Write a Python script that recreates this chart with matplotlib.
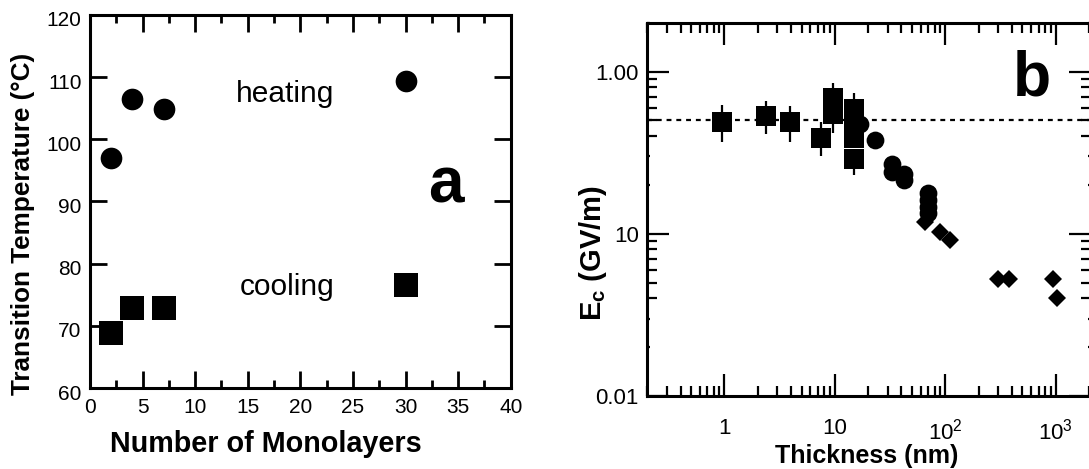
import numpy as np
import matplotlib
matplotlib.use("Agg")
import matplotlib.pyplot as plt
from matplotlib.ticker import FixedLocator, LogLocator, NullFormatter, FixedFormatter, MultipleLocator
import matplotlib.transforms as mtransforms

plt.rcParams['font.family'] = ['Liberation Sans', 'DejaVu Sans']
plt.rcParams['mathtext.fontset'] = 'custom'
plt.rcParams['mathtext.rm'] = 'Liberation Sans'
plt.rcParams['mathtext.it'] = 'Liberation Sans:italic'
plt.rcParams['mathtext.bf'] = 'Liberation Sans:bold'

# ---------------- Panel a data ----------------
monolayers = [2, 4, 7, 30]
heating_T = [97.0, 106.5, 104.9, 109.4]
cooling_T = [68.9, 72.8, 72.8, 76.5]

# ---------------- Panel b data ----------------
sq_thick = [0.95, 2.38, 3.9, 7.45, 9.7, 9.7, 14.9, 14.9, 14.9, 14.9]
sq_Ec = [0.49, 0.53, 0.49, 0.39, 0.69, 0.55, 0.59, 0.45, 0.39, 0.29]
sq_err_hi = [0.62, 0.66, 0.617, 0.49, 0.85, 0.55, 0.74, 0.45, 0.39, 0.29]
sq_err_lo = [0.37, 0.41, 0.37, 0.30, 0.69, 0.42, 0.59, 0.45, 0.39, 0.23]

circ_thick = [16.9, 23.1, 32.7, 32.7, 42.3, 42.3, 69, 69, 69, 69]
circ_Ec = [0.476, 0.38, 0.27, 0.24, 0.235, 0.215, 0.179, 0.162, 0.147, 0.135]

dia_thick = [65, 89.5, 110, 302, 380, 949, 1018]
dia_Ec = [0.119, 0.103, 0.091, 0.0525, 0.0525, 0.0525, 0.040]

Ec_ref = 0.5
b_xticks = [1, 10, 100, 1000]
b_xticklabels = ['1', '10', r'$10^2$', r'$10^3$']
b_yticks = [0.01, 0.1, 1.0]
b_yticklabels = ['0.01', '10', '1.00']

W, H = 1089, 469
fig = plt.figure(figsize=(W / 100, H / 100), dpi=100)

def frac(left, top, right, bottom):
    return [left / W, 1 - bottom / H, (right - left) / W, (bottom - top) / H]

# ================= Panel a =================
axa = fig.add_axes(frac(90, 15, 510.7, 388))
axa.plot(monolayers, heating_T, 'o', color='black', ms=15.6, mew=0)
axa.plot(monolayers, cooling_T, 's', color='black', ms=17.5, mew=0)
axa.set_xlim(0, 40)
axa.set_ylim(60, 120)
axa.xaxis.set_major_locator(MultipleLocator(5))
axa.xaxis.set_minor_locator(MultipleLocator(2.5))
axa.yaxis.set_major_locator(MultipleLocator(10))
for s in axa.spines.values():
    s.set_linewidth(2.2)
axa.tick_params(which='major', direction='in', top=True, right=True, length=12.5, width=2.0,
                labelsize=15, pad=7)
axa.tick_params(which='minor', direction='in', top=True, right=False, length=6, width=2.0)
axa.tick_params(axis='y', which='minor', left=False, right=False)
axa.tick_params(axis='y', pad=6)
offs = mtransforms.ScaledTranslation(0, -4 / 100, fig.dpi_scale_trans)
for lbl in axa.get_yticklabels():
    lbl.set_transform(lbl.get_transform() + offs)

axa.set_xlabel('Number of Monolayers', fontsize=20.7, fontweight='bold')
axa.xaxis.label.set_va('center')
axa.xaxis.set_label_coords((266 - 90) / 420.7, (388 - 444) / 373)
axa.set_ylabel('Transition Temperature (°C)', fontsize=18.8, fontweight='bold')
axa.yaxis.label.set_va('center')
axa.yaxis.set_label_coords((23 - 90) / 420.7, (388 - 223.5) / 373)

axa.text(18.5, 107.3, 'heating', fontsize=21.5, ha='center', va='center')
axa.text(18.7, 76.3, 'cooling', fontsize=21.5, ha='center', va='center')
axa.text((446 - 90) / 420.7, (388 - 185.5) / 373, 'a', transform=axa.transAxes,
         fontsize=46, fontweight='bold', ha='center', va='center')

# ================= Panel b =================
bl, br = 647.3, 1091
axb = fig.add_axes(frac(bl, 22.7, br, 396))
axb.set_xscale('log')
axb.set_yscale('log')
axb.set_xlim(0.2, 10 ** (3 + (br - 1055.7) / 110.5))
axb.set_ylim(0.01, 2.0)

axb.axhline(Ec_ref, color='black', lw=1.6, ls=(0, (2.2, 2.2)), zorder=1)

yerr = [np.array(sq_Ec) - np.array(sq_err_lo), np.array(sq_err_hi) - np.array(sq_Ec)]
axb.errorbar(sq_thick, sq_Ec, yerr=yerr, fmt='s', color='black', ms=13.8, mew=0,
             elinewidth=1.6, capsize=4.8, capthick=1.8, zorder=3)
axb.plot(circ_thick, circ_Ec, 'o', color='black', ms=12.8, mew=0, zorder=3)
axb.plot(dia_thick, dia_Ec, 'D', color='black', ms=9.3, mew=0, zorder=3)

axb.xaxis.set_major_locator(FixedLocator(b_xticks))
axb.xaxis.set_major_formatter(FixedFormatter(b_xticklabels))
axb.xaxis.set_minor_locator(LogLocator(base=10, subs=np.arange(2, 10), numticks=20))
axb.xaxis.set_minor_formatter(NullFormatter())
axb.yaxis.set_major_locator(FixedLocator(b_yticks))
axb.yaxis.set_major_formatter(FixedFormatter(b_yticklabels))
axb.yaxis.set_minor_locator(LogLocator(base=10, subs=np.arange(2, 10), numticks=20))
axb.yaxis.set_minor_formatter(NullFormatter())
for s in axb.spines.values():
    s.set_linewidth(2.2)
axb.tick_params(which='major', direction='in', top=True, right=True, length=16, width=1.6,
                labelsize=16)
axb.tick_params(which='minor', direction='in', top=True, right=True, length=7.5, width=1.6)
axb.tick_params(axis='x', which='major', pad=16)
axb.tick_params(axis='y', which='major', pad=6)

axb.set_xlabel('Thickness (nm)', fontsize=18, fontweight='bold')
axb.xaxis.label.set_va('center')
axb.xaxis.set_label_coords((866.7 - bl) / (br - bl), (396 - 456) / 373.3)
axb.set_ylabel(r'$\mathbf{E_c}$ (GV/m)', fontsize=21, fontweight='bold')
axb.yaxis.label.set_va('center')
axb.yaxis.set_label_coords((593 - bl) / (br - bl), (396 - 253) / 373.3)

axb.text((1031.7 - bl) / (br - bl), (396 - 79) / 373.3, 'b', transform=axb.transAxes,
         fontsize=45, fontweight='bold', ha='center', va='center')

# shorten minor y ticks at 2 and 3 (as in the reference)
fig.canvas.draw()
for t in axb.yaxis.get_minor_ticks():
    loc = t.get_loc()
    if loc is None or loc <= 0:
        continue
    m = loc / 10 ** np.floor(np.log10(loc) + 1e-9)
    if round(m) in (2, 3):
        t.tick1line.set_markersize(2.5)
        t.tick2line.set_markersize(2.5)

fig.savefig('out.png', dpi=100)
